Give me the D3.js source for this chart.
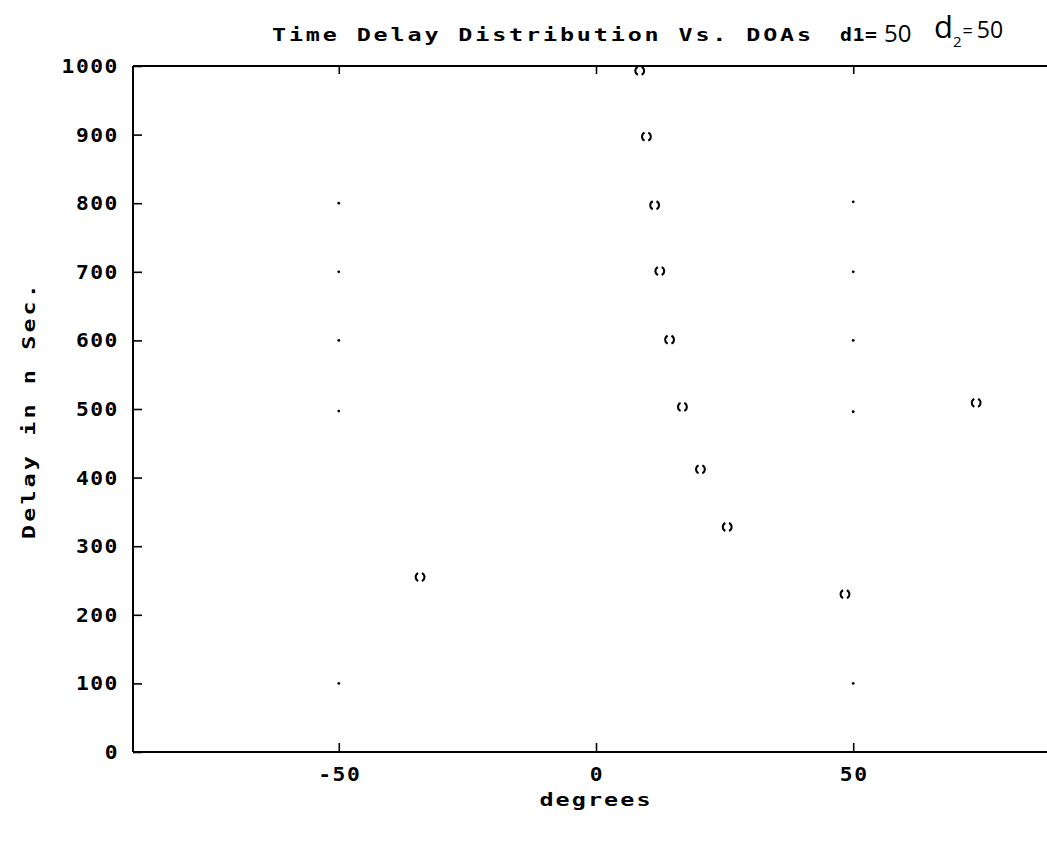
<!DOCTYPE html>
<html>
<head>
<meta charset="utf-8">
<script src="https://cdn.jsdelivr.net/npm/d3@7"></script>
<style>
  html, body { margin: 0; padding: 0; background: #fff; }
  svg { display: block; }
  .mono { font-family: "DejaVu Sans Mono", "Liberation Mono", monospace; font-weight: bold; fill: #000; }
  .hand { font-family: "Open Sans", "DejaVu Sans", sans-serif; fill: #000; }
</style>
</head>
<body>
<svg id="chart" width="1047" height="844"></svg>
<script>
// Delay (ns) against direction of arrival (degrees)
const arrivalDeg   = [8.5, 9.8, 11.4, 12.4, 14.3, 16.8, 20.3, 25.5, -34.2, 48.4, 73.9];
const arrivalDelay = [993, 897, 797, 701, 601, 503, 412, 328, 255, 230, 509];

// Reference points on the ±50° lines
const refDeg   = [-50, -50, -50, -50, -50, 50, 50, 50, 50, 50];
const refDelay = [800, 700, 600, 497, 100, 802, 700, 600, 496, 100];

const xTicks = [-50, 0, 50];
const yTicks = [0, 100, 200, 300, 400, 500, 600, 700, 800, 900, 1000];

const titleMain = "Time Delay Distribution Vs. DOAs";
const xLabel = "degrees";
const yLabel = "Delay in n Sec.";

const svg = d3.select("#chart");
const plotLeft = 133, plotTop = 66, plotBottom = 752;

const x = d3.scaleLinear().domain([-90, 90]).range([plotLeft, 1059]);
const y = d3.scaleLinear().domain([0, 1000]).range([plotBottom, plotTop]);

// frame: left, bottom and top lines
const frame = svg.append("g").attr("stroke", "#000").attr("stroke-width", 2).attr("fill", "none");
frame.append("line").attr("x1", plotLeft).attr("x2", plotLeft).attr("y1", plotTop).attr("y2", plotBottom);
frame.append("line").attr("x1", plotLeft).attr("x2", 1047).attr("y1", plotBottom).attr("y2", plotBottom);
frame.append("line").attr("x1", plotLeft).attr("x2", 1047).attr("y1", plotTop).attr("y2", plotTop);

// axes with inward ticks
const yAxis = d3.axisRight(y).tickValues(yTicks).tickSize(9).tickFormat("");
svg.append("g").attr("transform", `translate(${plotLeft},0)`).call(yAxis)
  .call(g => g.select(".domain").remove())
  .call(g => g.selectAll(".tick line").attr("stroke-width", 1.6));

const xAxisB = d3.axisTop(x).tickValues(xTicks).tickSize(9).tickFormat("");
svg.append("g").attr("transform", `translate(0,${plotBottom})`).call(xAxisB)
  .call(g => g.select(".domain").remove())
  .call(g => g.selectAll(".tick line").attr("stroke-width", 1.6));

const xAxisT = d3.axisBottom(x).tickValues(xTicks).tickSize(8).tickFormat("");
svg.append("g").attr("transform", `translate(0,${plotTop})`).call(xAxisT)
  .call(g => g.select(".domain").remove())
  .call(g => g.selectAll(".tick line").attr("stroke-width", 1.6));

// wide bold monospace text, stretched horizontally
function wideText(parent, tx, ty, rot, str, opts) {
  const o = Object.assign({ size: 18, sx: 1.3, ls: 2.1, anchor: "start" }, opts || {});
  return parent.append("text").attr("class", "mono")
    .attr("transform", `translate(${tx},${ty}) rotate(${rot}) scale(${o.sx},1)`)
    .attr("font-size", o.size)
    .attr("letter-spacing", o.ls)
    .attr("text-anchor", o.anchor)
    .text(str);
}

// tick labels
const yLab = svg.append("g");
yTicks.forEach(d => wideText(yLab, 119, y(d) + 7, 0, String(d),
  { size: 19, sx: 1.12, ls: 1.4, anchor: "end" }));

const xLab = svg.append("g");
xTicks.forEach(d => wideText(xLab, x(d) + 1, 781, 0, d < 0 ? "-" + Math.abs(d) : String(d),
  { size: 19, sx: 1.12, ls: 1.4, anchor: "middle" }));

// axis titles
wideText(svg, 596, 806, 0, xLabel, { anchor: "middle", ls: 1.6 });
wideText(svg, 35, 410, -90, yLabel, { anchor: "middle", ls: 2.4 });

// title
wideText(svg, 272, 41, 0, titleMain, { ls: 2.2 });
wideText(svg, 840, 41, 0, "d1=", { ls: 0.5, sx: 1.1 });
svg.append("text").attr("class", "hand")
  .attr("x", 884).attr("y", 42)
  .attr("font-size", 24)
  .text("50");
const d2 = svg.append("text").attr("class", "hand").attr("x", 934).attr("y", 38);
d2.append("tspan").attr("font-size", 31).text("d");
d2.append("tspan").attr("font-size", 15).attr("dy", 9).text("2");
d2.append("tspan").attr("font-size", 18).attr("dy", -10).attr("dx", 1).text("=");
d2.append("tspan").attr("font-size", 23).attr("dy", 1).attr("dx", 4).text("50");

// open markers drawn as a pair of facing arcs
function parenPath(cx, cy) {
  const p = d3.path(), r = 4.4;
  p.arc(cx, cy, r, Math.PI * 0.64, Math.PI * 1.36);
  p.moveTo(cx + r * Math.cos(-Math.PI * 0.36), cy + r * Math.sin(-Math.PI * 0.36));
  p.arc(cx, cy, r, -Math.PI * 0.36, Math.PI * 0.36);
  return p.toString();
}

svg.append("g").selectAll("path").data(arrivalDeg).join("path")
  .attr("d", (d, i) => parenPath(x(d), y(arrivalDelay[i])))
  .attr("fill", "none").attr("stroke", "#000").attr("stroke-width", 2);

// reference dots
svg.append("g").selectAll("circle").data(refDeg).join("circle")
  .attr("cx", d => x(d)).attr("cy", (d, i) => y(refDelay[i]))
  .attr("r", 1.4).attr("fill", "#000");
</script>
</body>
</html>
